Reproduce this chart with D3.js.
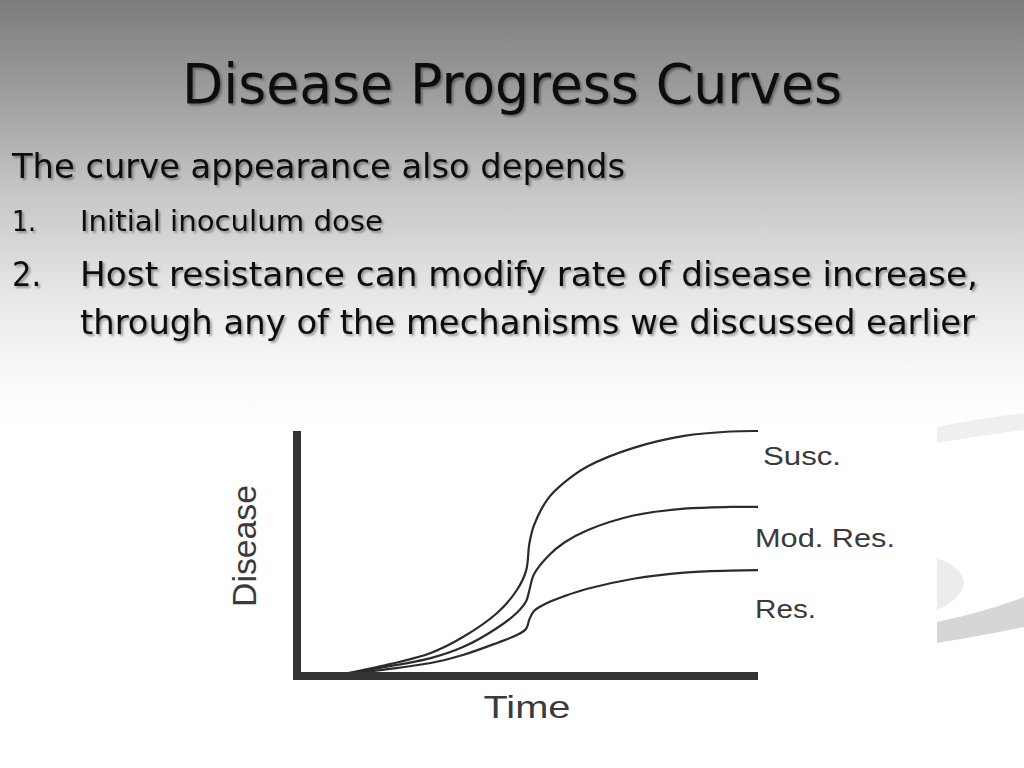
<!DOCTYPE html>
<html><head><meta charset="utf-8">
<script src="https://cdn.jsdelivr.net/npm/d3@7"></script>
<style>html,body{margin:0;padding:0;background:#fff;overflow:hidden}</style>
</head><body>
<script>
// ---- data ----
const time   = [8, 18, 29, 36, 43.4, 47.7, 49.7, 50.4, 51.4, 54.5, 58, 63, 73, 84, 94, 100];
const susc   = [0, 3.9, 9.4, 15.9, 25.7, 35.1, 43, 54, 61.5, 72.5, 79, 85.5, 93.1, 98, 99.8, 100];
const modRes = [0, 3.3, 7.3, 11.8, 19.6, 25.8, 30.5, 35, 41.5, 49, 54.5, 59.5, 65.5, 68.3, 69, 69];
const res    = [0, 2.4, 5.3, 8.6, 13.5, 16.7, 19.3, 23, 26.5, 30, 32.6, 35.6, 39.7, 42.2, 43, 43.2];
const seriesNames = ["Susc.", "Mod. Res.", "Res."];
const title = "Disease Progress Curves";
const bodyLines = ["The curve appearance also depends"];
const items = [
  ["1.", "Initial inoculum dose"],
  ["2.", "Host resistance can modify rate of disease increase,", "through any of the mechanisms we discussed earlier"]
];
const xLabel = "Time", yLabel = "Disease";

const W = 1024, H = 768;
const svg = d3.select("body").append("svg").attr("width", W).attr("height", H);
const defs = svg.append("defs");
const g = defs.append("linearGradient").attr("id","bg").attr("x1",0).attr("y1",0).attr("x2",0).attr("y2",1);
[[0,"#7c7c7c"],[0.12,"#9d9d9d"],[0.25,"#c6c6c6"],[0.38,"#e6e6e6"],[0.5,"#fbfbfb"],[0.56,"#ffffff"],[1,"#ffffff"]]
  .forEach(([o,c]) => g.append("stop").attr("offset",o).attr("stop-color",c));
const f = defs.append("filter").attr("id","sh").attr("x","-5%").attr("y","-20%").attr("width","110%").attr("height","140%");
f.append("feDropShadow").attr("dx",2).attr("dy",2).attr("stdDeviation",1).attr("flood-color","#000").attr("flood-opacity",0.35);

svg.append("rect").attr("width",W).attr("height",H).attr("fill","url(#bg)");

// decorative swooshes (right side)
svg.append("path").attr("d","M937,427 Q980,418 1024,413 L1024,430 Q980,436 937,443 Z").attr("fill","#efefef");
svg.append("path").attr("d","M937,558 Q968,570 963,588 Q956,602 937,610 Z").attr("fill","#ececec");
svg.append("path").attr("d","M937,622 Q985,612 1024,597 L1024,627 Q985,635 937,643 Z").attr("fill","#d6d6d6");
svg.append("path").attr("d","M903,365 Q915,345 912,330").attr("fill","none").attr("stroke","#f4f4f4").attr("stroke-width",3).attr("opacity",0.6);

const font = "'DejaVu Sans Condensed','DejaVu Sans',Verdana,sans-serif";
// title
svg.append("text").attr("x",182).attr("y",103).attr("font-family",font).attr("font-size",56)
  .attr("fill","#111").attr("filter","url(#sh)").attr("textLength",660).attr("lengthAdjust","spacingAndGlyphs").text(title);
// body
svg.append("text").attr("x",12).attr("y",178).attr("font-family",font).attr("font-size",34)
  .attr("fill","#111").attr("filter","url(#sh)").attr("textLength",613).attr("lengthAdjust","spacingAndGlyphs").text(bodyLines[0]);
svg.append("text").attr("x",12).attr("y",231).attr("font-family",font).attr("font-size",28)
  .attr("fill","#111").attr("filter","url(#sh)").text(items[0][0]);
svg.append("text").attr("x",80).attr("y",231).attr("font-family",font).attr("font-size",28)
  .attr("fill","#111").attr("filter","url(#sh)").attr("textLength",303).attr("lengthAdjust","spacingAndGlyphs").text(items[0][1]);
svg.append("text").attr("x",12).attr("y",286).attr("font-family",font).attr("font-size",34)
  .attr("fill","#111").attr("filter","url(#sh)").text(items[1][0]);
svg.append("text").attr("x",80).attr("y",286).attr("font-family",font).attr("font-size",34)
  .attr("fill","#111").attr("filter","url(#sh)").attr("textLength",898).attr("lengthAdjust","spacingAndGlyphs").text(items[1][1]);
svg.append("text").attr("x",80).attr("y",334).attr("font-family",font).attr("font-size",34)
  .attr("fill","#111").attr("filter","url(#sh)").attr("textLength",895).attr("lengthAdjust","spacingAndGlyphs").text(items[1][2]);

// chart
const x = d3.scaleLinear().domain([0,100]).range([297,758]);
const y = d3.scaleLinear().domain([0,100]).range([676,431]);
const ink = "#333";
const chart = svg.append("g");

const line = d3.line().x(d=>x(d[0])).y(d=>y(d[1])).curve(d3.curveCatmullRom.alpha(0.5));
[susc, modRes, res].forEach(s => {
  chart.append("path").datum(time.map((t,i)=>[t,s[i]])).attr("d",line)
    .attr("fill","none").attr("stroke","#2b2b2b").attr("stroke-width",2.2);
});

const xAxis = chart.append("g").attr("transform",`translate(0,${y(0)})`)
  .call(d3.axisBottom(x).ticks(0).tickSize(0).tickSizeOuter(0));
xAxis.select(".domain").attr("stroke",ink).attr("stroke-width",8).attr("d",`M${x(0)-4},0H${x(100)}`);
const yAxis = chart.append("g").attr("transform",`translate(${x(0)},0)`)
  .call(d3.axisLeft(y).ticks(0).tickSize(0).tickSizeOuter(0));
yAxis.select(".domain").attr("stroke",ink).attr("stroke-width",8).attr("d",`M0,${y(0)+4}V${y(100)}`);
chart.selectAll(".tick").remove();

const lab = "'Liberation Sans',Arial,Helvetica,sans-serif";
const labPos = [[763,465,78],[755,547,140],[755,618,61]];
seriesNames.forEach((n,i)=>{
  chart.append("text").attr("x",labPos[i][0]).attr("y",labPos[i][1]).attr("font-family",lab).attr("font-size",25)
    .attr("fill","#3a3a3a").attr("textLength",labPos[i][2]).attr("lengthAdjust","spacingAndGlyphs").text(n);
});
chart.append("text").attr("x",527).attr("y",718).attr("text-anchor","middle").attr("font-family",lab).attr("font-size",32)
  .attr("fill","#3a3a3a").attr("textLength",87).attr("lengthAdjust","spacingAndGlyphs").text(xLabel);
chart.append("text").attr("transform","translate(256,546) rotate(-90)").attr("text-anchor","middle").attr("font-family",lab).attr("font-size",33)
  .attr("fill","#3a3a3a").attr("textLength",122).attr("lengthAdjust","spacingAndGlyphs").text(yLabel);
</script>
</body></html>
